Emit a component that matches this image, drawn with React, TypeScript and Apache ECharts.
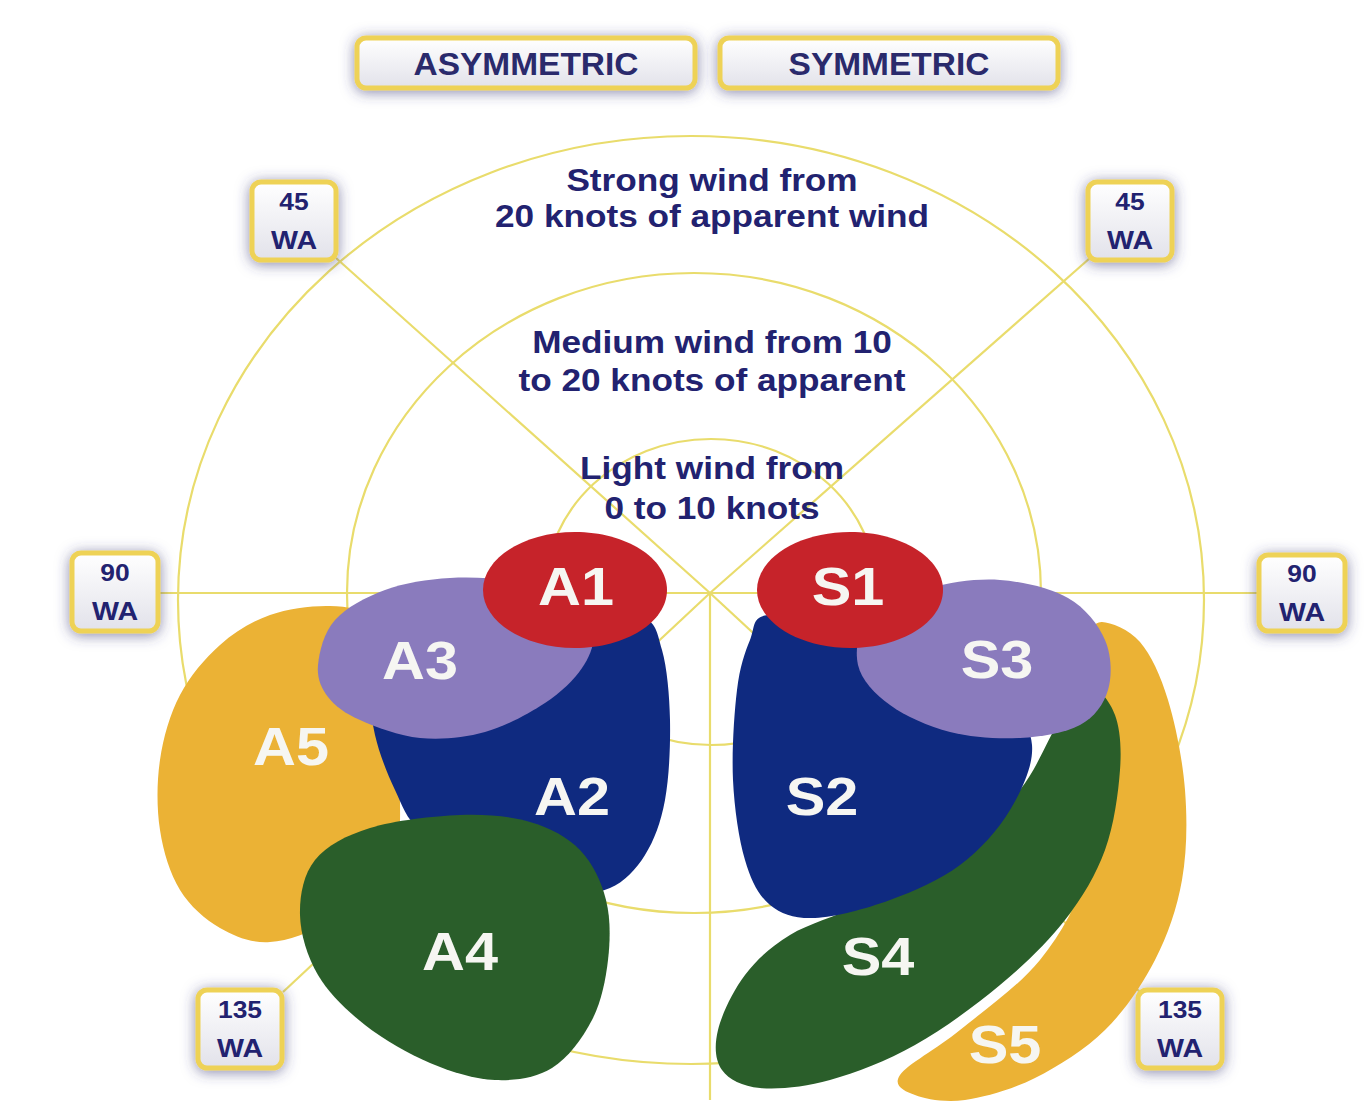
import React, { useEffect, useRef } from "react";
import * as echarts from "echarts";

const W = 1365;
const H = 1120;

// ---------------- content ----------------
const headerLabels = ["ASYMMETRIC", "SYMMETRIC"];
const windBandLines = [
  ["Strong wind from", "20 knots of apparent wind"],
  ["Medium wind from 10", "to 20 knots of apparent"],
  ["Light wind from", "0 to 10 knots"],
];
const windAngleLabels = ["45", "90", "135", "45", "90", "135"];
const angleUnit = "WA";
// drawing order (back to front)
const zoneNames = ["A5", "A2", "A4", "A3", "A1", "S5", "S4", "S2", "S3", "S1"];

// ---------------- layout ----------------
const CENTER = [710, 593];
const RINGS = [
  { cx: 711, cy: 592, rx: 166, ry: 153 },
  { cx: 694, cy: 593, rx: 347, ry: 320 },
  { cx: 691, cy: 600, rx: 513, ry: 464 },
];
const SPOKE_ENDS = [
  [160, 593], [1258, 593],
  [336, 258], [1090, 258],
  [283, 992], [1140, 992],
  [710, 1100],
];
const HEADER_BOXES = [
  [357, 38, 338, 50],
  [720, 38, 338, 50],
];
const ANGLE_BOXES = [
  [252, 182, 84, 78],
  [72, 553, 86, 78],
  [198, 990, 84, 78],
  [1088, 182, 84, 78],
  [1259, 555, 86, 76],
  [1138, 990, 84, 78],
];
const WIND_TEXT_Y = [
  [180, 216],
  [342, 380],
  [468, 508],
];
const WIND_TEXT_X = 712;

const ZONE_SHAPES: Record<string, any> = {
  A5: { pts: [[330, 606], [375, 618], [395, 660], [390, 730], [400, 800], [390, 860], [330, 920], [270, 942], [220, 928], [180, 890], [160, 830], [160, 760], [180, 695], [220, 645], [270, 615]] },
  A2: { pts: [[380, 620], [470, 605], [560, 605], [640, 615], [662, 650], [670, 720], [665, 800], [645, 855], [610, 888], [560, 890], [480, 860], [420, 830], [395, 790], [375, 735], [370, 680]] },
  A4: { pts: [[460, 815], [530, 822], [580, 850], [606, 900], [608, 960], [592, 1020], [552, 1068], [495, 1080], [430, 1063], [365, 1025], [318, 975], [300, 915], [315, 860], [370, 828]] },
  A3: { pts: [[318, 665], [335, 620], [385, 590], [450, 578], [520, 582], [570, 600], [593, 632], [582, 668], [545, 703], [485, 732], [420, 738], [360, 720], [328, 697]] },
  A1: { ellipse: [575, 590, 92, 58] },
  S5: { pts: [[1102, 622], [1140, 642], [1168, 700], [1185, 790], [1182, 880], [1155, 960], [1105, 1030], [1035, 1078], [965, 1100], [915, 1095], [900, 1075], [960, 1030], [1040, 960], [1090, 870], [1110, 770], [1100, 680], [1090, 640]] },
  S4: { pts: [[1090, 688], [1115, 715], [1120, 770], [1105, 850], [1065, 920], [1000, 985], [915, 1045], [830, 1080], [760, 1088], [722, 1070], [718, 1030], [745, 975], [790, 935], [860, 905], [950, 860], [1020, 790], [1060, 720]] },
  S2: { pts: [[768, 615], [850, 628], [930, 650], [1000, 690], [1032, 745], [1010, 810], [960, 865], [890, 900], [815, 918], [770, 905], [745, 860], [733, 780], [737, 690], [750, 640]] },
  S3: { pts: [[870, 615], [930, 588], [1000, 580], [1068, 598], [1105, 640], [1108, 690], [1080, 725], [1020, 738], [950, 732], [890, 705], [858, 665]] },
  S1: { ellipse: [850, 590, 93, 58] },
};
const ZONE_LABEL_POS: Record<string, number[]> = {
  A1: [576, 586], A3: [420, 660], A5: [291, 746], A2: [572, 796], A4: [460, 951],
  S1: [848, 586], S3: [997, 659], S2: [822, 796], S4: [878, 956], S5: [1005, 1044],
};

// ---------------- styles ----------------
const ZONE_COLORS: Record<string, string> = {
  A1: "#c6232a", S1: "#c6232a",
  A2: "#0f2a80", S2: "#0f2a80",
  A3: "#8a7bbd", S3: "#8a7bbd",
  A4: "#2a5e2a", S4: "#2a5e2a",
  A5: "#ebb235", S5: "#ebb235",
};
const LINE_COLOR = "#e9dc6c";
const NAVY = "#222270";
const FONT = '"Liberation Sans", Arial, Helvetica, sans-serif';

// ---------------- helpers ----------------
function ellipsePath(cx: number, cy: number, rx: number, ry: number) {
  const k = 0.5522847498;
  return (
    `M${cx - rx},${cy} ` +
    `C${cx - rx},${cy - ry * k} ${cx - rx * k},${cy - ry} ${cx},${cy - ry} ` +
    `C${cx + rx * k},${cy - ry} ${cx + rx},${cy - ry * k} ${cx + rx},${cy} ` +
    `C${cx + rx},${cy + ry * k} ${cx + rx * k},${cy + ry} ${cx},${cy + ry} ` +
    `C${cx - rx * k},${cy + ry} ${cx - rx},${cy + ry * k} ${cx - rx},${cy} Z`
  );
}

function smoothClosedPath(pts: number[][]) {
  const n = pts.length;
  let d = `M${pts[0][0]},${pts[0][1]}`;
  for (let i = 0; i < n; i++) {
    const p0 = pts[(i - 1 + n) % n];
    const p1 = pts[i];
    const p2 = pts[(i + 1) % n];
    const p3 = pts[(i + 2) % n];
    const c1 = [p1[0] + (p2[0] - p0[0]) / 6, p1[1] + (p2[1] - p0[1]) / 6];
    const c2 = [p2[0] - (p3[0] - p1[0]) / 6, p2[1] - (p3[1] - p1[1]) / 6];
    d += ` C${c1[0]},${c1[1]} ${c2[0]},${c2[1]} ${p2[0]},${p2[1]}`;
  }
  return d + " Z";
}

function ellipseViaApi(api: any, cx: number, cy: number, rx: number, ry: number) {
  const c = api.coord([cx, cy]);
  const e = api.coord([cx + rx, cy + ry]);
  return ellipsePath(c[0], c[1], Math.abs(e[0] - c[0]), Math.abs(e[1] - c[1]));
}

function boxGradient() {
  return new echarts.graphic.LinearGradient(0, 0, 0, 1, [
    { offset: 0, color: "#ffffff" },
    { offset: 1, color: "#e2e2ea" },
  ]);
}

function textEl(x: number, y: number, text: string, size: number, color: string, scaleX = 1) {
  return {
    type: "text",
    x,
    y,
    scaleX,
    style: {
      text,
      fill: color,
      fontSize: size,
      fontWeight: "bold",
      fontFamily: FONT,
      align: "center",
      verticalAlign: "middle",
      textAlign: "center",
      textVerticalAlign: "middle",
    },
  };
}

function boxEl(api: any, b: number[], r: number) {
  const p = api.coord([b[0], b[1]]);
  const q = api.coord([b[0] + b[2], b[1] + b[3]]);
  return {
    type: "rect",
    shape: { x: p[0], y: p[1], width: q[0] - p[0], height: q[1] - p[1], r },
    style: {
      fill: boxGradient(),
      stroke: "#eed257",
      lineWidth: 5,
      shadowBlur: 14,
      shadowColor: "rgba(60,60,120,0.6)",
      shadowOffsetX: 0,
      shadowOffsetY: 2,
    },
  };
}

const base = {
  type: "custom",
  coordinateSystem: "cartesian2d",
  clip: false,
  silent: true,
};

const option: any = {
  animation: false,
  backgroundColor: "#ffffff",
  grid: { left: 0, right: 0, top: 0, bottom: 0, containLabel: false },
  xAxis: { type: "value", min: 0, max: W, show: false },
  yAxis: { type: "value", min: 0, max: H, inverse: true, show: false },
  series: [
    {
      ...base,
      name: "rings",
      data: RINGS.map((_, i) => [i, 0]),
      renderItem: (params: any, api: any) => {
        const r = RINGS[params.dataIndex];
        return {
          type: "path",
          shape: { pathData: ellipseViaApi(api, r.cx, r.cy, r.rx, r.ry) },
          style: { fill: "none", stroke: LINE_COLOR, lineWidth: 2.2 },
        };
      },
    },
    {
      ...base,
      name: "spokes",
      data: SPOKE_ENDS.map((_, i) => [i, 0]),
      renderItem: (params: any, api: any) => {
        const c = api.coord(CENTER);
        const e = api.coord(SPOKE_ENDS[params.dataIndex]);
        return {
          type: "line",
          shape: { x1: c[0], y1: c[1], x2: e[0], y2: e[1] },
          style: { stroke: LINE_COLOR, lineWidth: 2.2 },
        };
      },
    },
    {
      ...base,
      name: "headers",
      data: headerLabels.map((_, i) => [i, 0]),
      renderItem: (params: any, api: any) => {
        const b = HEADER_BOXES[params.dataIndex];
        const c = api.coord([b[0] + b[2] / 2, b[1] + b[3] / 2 + 1]);
        return {
          type: "group",
          children: [boxEl(api, b, 9), textEl(c[0], c[1], headerLabels[params.dataIndex], 31, "#2a2a6c", 1.08)],
        };
      },
    },
    {
      ...base,
      name: "angles",
      data: windAngleLabels.map((_, i) => [i, 0]),
      renderItem: (params: any, api: any) => {
        const b = ANGLE_BOXES[params.dataIndex];
        const cx = b[0] + b[2] / 2;
        const cy = b[1] + b[3] / 2;
        const t1 = api.coord([cx, cy - 20]);
        const t2 = api.coord([cx, cy + 19]);
        return {
          type: "group",
          children: [
            boxEl(api, b, 9),
            textEl(t1[0], t1[1], windAngleLabels[params.dataIndex], 24, NAVY, 1.1),
            textEl(t2[0], t2[1], angleUnit, 26, NAVY, 1.1),
          ],
        };
      },
    },
    {
      ...base,
      name: "zones",
      data: zoneNames.map((_, i) => [i, 0]),
      renderItem: (params: any, api: any) => {
        const name = zoneNames[params.dataIndex];
        const s = ZONE_SHAPES[name];
        let d: string;
        if (s.ellipse) {
          const [cx, cy, rx, ry] = s.ellipse;
          d = ellipseViaApi(api, cx, cy, rx, ry);
        } else {
          d = smoothClosedPath(s.pts.map((p: number[]) => api.coord(p)));
        }
        const lp = api.coord(ZONE_LABEL_POS[name]);
        return {
          type: "group",
          children: [
            { type: "path", shape: { pathData: d }, style: { fill: ZONE_COLORS[name] } },
            textEl(lp[0], lp[1], name, 54, "#f6f6f2", 1.1),
          ],
        };
      },
    },
    {
      ...base,
      name: "windBands",
      data: windBandLines.map((_, i) => [i, 0]),
      renderItem: (params: any, api: any) => {
        const lines = windBandLines[params.dataIndex];
        const ys = WIND_TEXT_Y[params.dataIndex];
        return {
          type: "group",
          children: lines.map((t, j) => {
            const p = api.coord([WIND_TEXT_X, ys[j]]);
            return textEl(p[0], p[1], t, 32, NAVY, 1.1);
          }),
        };
      },
    },
  ],
};

export default function App() {
  const ref = useRef<HTMLDivElement>(null);
  useEffect(() => {
    if (!ref.current) return;
    const chart = echarts.init(ref.current, null, { renderer: "svg" });
    chart.setOption(option);
    return () => {
      chart.dispose();
    };
  }, []);
  return (
    <div
      ref={ref}
      style={{ position: "absolute", left: 0, top: 0, width: W, height: H, background: "#ffffff" }}
    />
  );
}
